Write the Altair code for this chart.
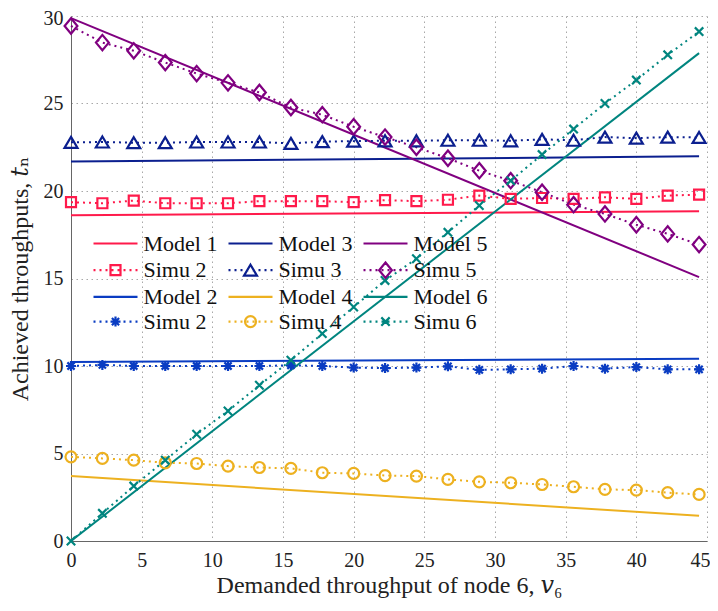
import altair as alt
import pandas as pd

# ---------------- data ----------------
x_sim = [0, 2.22, 4.44, 6.67, 8.89, 11.11, 13.33, 15.56, 17.78, 20.0, 22.22,
         24.44, 26.67, 28.89, 31.11, 33.33, 35.56, 37.78, 40.0, 42.22, 44.44]

simu_red = [19.36, 19.30, 19.45, 19.30, 19.30, 19.30, 19.42, 19.42, 19.42, 19.36, 19.48,
            19.42, 19.50, 19.74, 19.55, 19.60, 19.55, 19.64, 19.55, 19.74, 19.79]
simu_navy = [22.78, 22.80, 22.76, 22.76, 22.80, 22.80, 22.80, 22.72, 22.82, 22.85, 22.87,
             22.87, 22.90, 22.90, 22.87, 22.95, 22.90, 23.08, 23.02, 23.08, 23.06]
simu_purple = [29.43, 28.48, 28.01, 27.34, 26.71, 26.18, 25.63, 24.77, 24.36, 23.67, 23.08,
               22.50, 21.87, 21.16, 20.59, 19.93, 19.22, 18.69, 18.07, 17.55, 16.94]
simu_blue = [10.00, 10.06, 10.00, 10.00, 10.00, 10.00, 10.00, 10.04, 10.00, 9.91, 9.88,
             9.91, 9.98, 9.78, 9.81, 9.85, 10.00, 9.85, 9.94, 9.81, 9.81]
simu_yellow = [4.81, 4.72, 4.62, 4.47, 4.43, 4.28, 4.20, 4.15, 3.90, 3.86, 3.74,
               3.71, 3.52, 3.38, 3.33, 3.23, 3.10, 2.95, 2.91, 2.76, 2.66]
simu_teal = [0.0, 1.58, 3.14, 4.62, 6.10, 7.43, 8.90, 10.33, 11.85, 13.37, 14.89,
             16.13, 17.64, 19.17, 20.59, 22.08, 23.54, 25.00, 26.34, 27.78, 29.11]

x_model = [0, 44.44]
model_red = [18.62, 18.84]
model_navy = [21.68, 21.98]
model_purple = [29.88, 15.08]
model_blue = [10.23, 10.42]
model_yellow = [3.71, 1.44]
model_teal = [0.0, 27.88]

# legend keys (column by column, as in the reference) and their labels
keys = ["m1", "s1", "m2", "s2", "m3", "s3", "m4", "s4", "m5", "s5", "m6", "s6"]
labels = ["Model 1", "Simu 2", "Model 2", "Simu 2", "Model 3", "Simu 3",
          "Model 4", "Simu 4", "Model 5", "Simu 5", "Model 6", "Simu 6"]

# ---------------- styles ----------------
RED, NAVY, PURPLE = "#FF1A4B", "#0B1F8F", "#800080"
BLUE, YELLOW, TEAL = "#0A3CC2", "#EDB120", "#00857F"
color_of = {"m1": RED, "s1": RED, "m3": NAVY, "s3": NAVY, "m5": PURPLE, "s5": PURPLE,
            "m2": BLUE, "s2": BLUE, "m4": YELLOW, "s4": YELLOW, "m6": TEAL, "s6": TEAL}
marker_of = {"s1": "square", "s3": "triangle", "s5": "diamond",
             "s2": "asterisk", "s4": "circle", "s6": "x"}
FONT = "Liberation Serif, DejaVu Serif, serif"


def f(v):
    return f"{v:.4f}".rstrip("0").rstrip(".")


def marker_path(kind, u):
    if kind == "square":
        h = 5 / u
        return f"M{f(-h)},{f(-h)}H{f(h)}V{f(h)}H{f(-h)}Z"
    if kind == "triangle":
        w, h = 6.5 / u, 5.5 / u
        return f"M0,{f(-h)}L{f(w)},{f(h)}L{f(-w)},{f(h)}Z"
    if kind == "diamond":
        w, h = 6.4 / u, 7.7 / u
        return f"M0,{f(-h)}L{f(w)},0L0,{f(h)}L{f(-w)},0Z"
    if kind == "circle":
        r = 5.5 / u
        return f"M{f(r)},0A{f(r)},{f(r)} 0 1,1 {f(-r)},0A{f(r)},{f(r)} 0 1,1 {f(r)},0Z"
    if kind == "x":
        a = 4.2 / u
        return f"M{f(-a)},{f(-a)}L{f(a)},{f(a)}M{f(-a)},{f(a)}L{f(a)},{f(-a)}"
    if kind == "asterisk":
        a, d = 5 / u, 3.6 / u
        return (f"M{f(-a)},0H{f(a)}M0,{f(-a)}V{f(a)}"
                f"M{f(-d)},{f(-d)}L{f(d)},{f(d)}M{f(-d)},{f(d)}L{f(d)},{f(-d)}")
    return ""


LEG_W = 44.0                 # width of the legend line sample in px
LEG_S = 16.0                 # nominal legend symbol size (sqrt of area)
LEG_U = LEG_S / 2            # px per path unit for the legend symbol
HALF = (LEG_W / 2) / LEG_U   # half-width of the line sample in path units


def legend_path(key):
    if key.startswith("m"):
        return f"M{f(-HALF)},0H{f(HALF)}"
    segs = []
    period, dl = 6 / LEG_U, 2 / LEG_U
    x0 = -HALF
    while x0 + dl <= HALF + 1e-4:
        segs.append(f"M{f(x0)},0H{f(x0 + dl)}")
        x0 += period
    return "".join(segs) + marker_path(marker_of[key], LEG_U)


PT_SIZE = 400
PT_U = (PT_SIZE ** 0.5) / 2

# ---------------- tables ----------------
model_series = {"m1": model_red, "m3": model_navy, "m5": model_purple,
                "m2": model_blue, "m4": model_yellow, "m6": model_teal}
simu_series = {"s1": simu_red, "s3": simu_navy, "s5": simu_purple,
               "s2": simu_blue, "s4": simu_yellow, "s6": simu_teal}

model_df = pd.DataFrame([{"x": x, "y": y, "key": k}
                         for k, ys in model_series.items() for x, y in zip(x_model, ys)])
simu_df = pd.DataFrame([{"x": x, "y": y, "key": k}
                        for k, ys in simu_series.items() for x, y in zip(x_sim, ys)])
legend_df = pd.DataFrame({"key": keys})

xs = alt.Scale(domain=[0, 45], nice=False)
ys_ = alt.Scale(domain=[0, 30], nice=False)

xenc = alt.X("x:Q", scale=xs, axis=alt.Axis(
    title="Demanded throughput of node 6, 𝑣₆", values=list(range(0, 50, 5)),
    titlePadding=3, labelPadding=9,
    labelAlign={"condition": {"test": "datum.value == 45", "value": "right"},
                "value": "center"},
    labelOffset={"condition": {"test": "datum.value == 45", "value": 3},
                 "value": 0}))
yenc = alt.Y("y:Q", scale=ys_, axis=alt.Axis(
    title="Achieved throughputs, 𝑡ₙ", values=list(range(0, 35, 5)),
    titlePadding=11, labelPadding=8,
    labelOffset={"condition": {"test": "datum.value == 30", "value": 2},
                 "value": 0}))

layers = []
first = True
for k, ys in model_series.items():
    layers.append(alt.Chart(model_df).transform_filter(alt.datum.key == k).mark_line(
        strokeWidth=2, color=color_of[k]).encode(
        x=xenc if first else alt.X("x:Q"), y=yenc if first else alt.Y("y:Q")))
    first = False

for k in simu_series:
    layers.append(alt.Chart(simu_df).transform_filter(alt.datum.key == k).mark_line(
        strokeWidth=2, strokeDash=[2, 4], color=color_of[k]).encode(x="x:Q", y="y:Q"))

for k in simu_series:
    layers.append(alt.Chart(simu_df).transform_filter(alt.datum.key == k).mark_point(
        shape=marker_path(marker_of[k], PT_U), size=PT_SIZE, filled=False,
        strokeWidth=2.2, opacity=1, color=color_of[k]).encode(x="x:Q", y="y:Q"))

label_expr = ("[" + ",".join(f"'{l}'" for l in labels) + "][indexof(["
              + ",".join(f"'{k}'" for k in keys) + "], datum.value)]")

SW = 2.2
size_px = int(-(-(LEG_S + SW) // 1))          # width Vega reserves for the symbol
sym_offset = LEG_W / 2 - size_px / 2
leg = alt.Legend(title=None, orient="none", legendX=21, legendY=216.5, columns=3,
                 direction="vertical", labelExpr=label_expr, labelFont=FONT,
                 labelFontSize=22, labelColor="#111",
                 labelOffset=LEG_W - size_px + 6 - 14, symbolOffset=sym_offset,
                 symbolSize=LEG_S ** 2, symbolStrokeWidth=SW, rowPadding=2.7,
                 columnPadding=6, padding=0)

legend_layer = alt.Chart(legend_df).transform_filter("false").mark_point(
    filled=False, opacity=1, strokeWidth=SW).encode(
    color=alt.Color("key:N", scale=alt.Scale(domain=keys,
                                             range=[color_of[k] for k in keys]),
                    legend=leg),
    shape=alt.Shape("key:N", scale=alt.Scale(domain=keys,
                                             range=[legend_path(k) for k in keys]),
                    legend=leg))
layers.append(legend_layer)

chart = alt.layer(*layers).properties(
    width=636, height=525,
    autosize=alt.AutoSizeParams(type="none"),
    padding={"left": 63, "top": 8, "right": 3, "bottom": 58},
).configure_view(stroke=None).configure_axis(
    labelFont=FONT, titleFont=FONT, labelFontSize=20, titleFontSize=24,
    titleFontWeight="normal", labelColor="#222", titleColor="#222",
    domainColor="#666", domainWidth=1, ticks=False,
    gridColor="#a8a8a8", gridDash=[1.5, 3.5], gridWidth=1,
)

chart.save("out.html", embed_options={"renderer": "svg", "actions": False})
